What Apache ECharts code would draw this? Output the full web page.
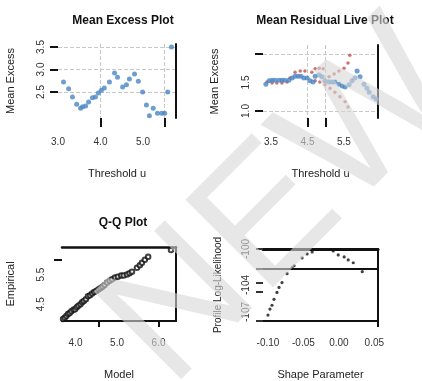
<!DOCTYPE html>
<html>
<head>
<meta charset="utf-8">
<script src="https://cdn.jsdelivr.net/npm/echarts@6/dist/echarts.min.js"></script>
<style>html,body{margin:0;padding:0;background:#fff}#c{width:422px;height:381px}</style>
</head>
<body>
<div id="c"></div>
<script>
// ---- Mean Excess Plot ----
const meThreshold = [3.13,3.25,3.34,3.44,3.53,3.58,3.65,3.72,3.81,3.88,3.95,4.02,4.09,4.21,4.33,4.40,4.52,4.61,4.68,4.80,4.89,4.99,5.08,5.15,5.24,5.34,5.44,5.51,5.58,5.67];
const meExcess    = [2.72,2.57,2.39,2.23,2.14,2.17,2.19,2.28,2.37,2.39,2.48,2.54,2.59,2.72,2.92,2.83,2.61,2.66,2.79,2.90,2.74,2.50,2.21,1.97,2.14,2.03,2.03,2.03,2.50,3.50];
const meXLabels = [3.0, 4.0, 5.0];
const meXTicks  = [4.0, 5.5];
const meYTicks  = [2.5, 3.0, 3.5];

// ---- Mean Residual Life Plot ----
const mrlThreshold = [3.36,3.45,3.53,3.61,3.72,3.80,3.88,3.99,4.08,4.16,4.24,4.32,4.40,4.49,4.57,4.65,4.71,4.82,4.90,4.98,5.09,5.17,5.25,5.36,5.45,5.53,5.64,5.72,5.80,5.86,5.94,6.05,6.13,6.19,6.30,6.38];
const mrlMean      = [1.47,1.53,1.54,1.54,1.54,1.54,1.54,1.54,1.58,1.61,1.61,1.61,1.58,1.58,1.53,1.51,1.61,1.63,1.60,1.53,1.51,1.51,1.51,1.47,1.44,1.42,1.46,1.53,1.58,1.70,1.60,1.47,1.40,1.33,1.25,1.21];
const mrlUpperX = [3.39,3.53,3.66,3.80,3.94,4.02,4.16,4.30,4.43,4.62,4.71,4.82,4.93,5.09,5.23,5.36,5.50,5.61,5.66];
const mrlUpper  = [1.51,1.49,1.49,1.49,1.51,1.58,1.68,1.70,1.70,1.68,1.74,1.75,1.74,1.60,1.65,1.70,1.75,1.84,1.98];
const mrlLowerX = [4.71,4.84,4.98,5.12,5.25,5.39,5.53,5.61];
const mrlLower  = [1.53,1.51,1.46,1.40,1.33,1.25,1.16,1.07];
const mrlXLabels = [3.5, 4.5, 5.5];
const mrlXTicks  = [4.5, 5.0];
const mrlYTicks  = [1.0, 2.0];
const mrlYLabels = [1.0, 1.5];

// ---- Q-Q Plot ----
const qqModel     = [3.70,3.74,3.78,3.82,3.86,3.90,3.95,3.99,4.03,4.07,4.12,4.16,4.20,4.25,4.30,4.35,4.40,4.45,4.50,4.55,4.60,4.65,4.70,4.76,4.82,4.88,4.95,5.02,5.10,5.16,5.24,5.30,5.36,5.48,5.55,5.60,5.67,5.75,6.30];
const qqEmpirical = [4.00,4.04,4.10,4.17,4.20,4.26,4.31,4.33,4.40,4.45,4.50,4.57,4.61,4.67,4.77,4.80,4.86,4.91,4.95,5.00,5.04,5.09,5.15,5.23,5.29,5.34,5.40,5.43,5.47,5.47,5.50,5.55,5.60,5.73,5.82,5.90,6.00,6.10,6.33];
const qqXLabels = [4.0, 5.0, 6.0];
const qqXTicks  = [4.55, 6.0];
const qqYTicks  = [6.0];
const qqYLabels = [4.5, 5.5];

// ---- Profile likelihood ----
const profShape = [-0.100,-0.0972,-0.0943,-0.0915,-0.0873,-0.0844,-0.0802,-0.0731,-0.0660,-0.0632,-0.0519,-0.0448,-0.0377,-0.0080,-0.0009,0.0075,0.0132,0.0203,0.0330];
const profLik   = [-107.34,-106.68,-106.25,-105.59,-104.82,-104.27,-103.73,-102.74,-102.08,-101.86,-100.99,-100.55,-100.33,-100.22,-100.66,-100.88,-101.21,-101.53,-102.52];
const profCut = -102.2;
const profXLabels = [-0.10, -0.05, 0.00, 0.05];
const profXTicks  = [0.055];
const profYTicks  = [-100, -102.2, -103.7, -104.8, -108];
const profYLabels = [-100, -104, -107];

const titles = ['Mean Excess Plot', 'Mean Residual Live Plot', 'Q-Q Plot'];

const FONT = 'Liberation Sans';
const BLUE = '#4a86c4', RED = '#c0504d';
const zip = (a, b) => a.map((v, i) => [v, b[i]]);
const lbl = (vals, fmt, extra) => Object.assign({customValues: vals, formatter: fmt, fontSize: 10, color: '#333', fontFamily: FONT}, extra || {});
const blackTick = (vals, len) => ({show: true, customValues: vals, length: len, lineStyle: {color: '#111', width: 2}});
const grid = {type: 'dashed', color: '#c8c8c8', width: 1};
const nameStyle = {fontSize: 11, color: '#222', fontFamily: FONT};
const f1 = v => v.toFixed(1), f2 = v => v.toFixed(2), f0 = v => v.toFixed(0);
const noLine = {show: false, onZero: false};
const border = w => ({show: true, onZero: false, lineStyle: {color: '#111', width: w}});
const hide = {axisTick: {show: false}, axisLabel: {show: false}, splitLine: {show: false}};

const option = {
  animation: false,
  backgroundColor: '#fff',
  title: [
    {text: titles[0], left: 118, top: 10, textAlign: 'center', textStyle: {fontSize: 12, fontWeight: 'bold', fontFamily: FONT, color: '#111'}},
    {text: titles[1], left: 320, top: 10, textAlign: 'center', textStyle: {fontSize: 12, fontWeight: 'bold', fontFamily: FONT, color: '#111'}},
    {text: titles[2], left: 118, top: 212, textAlign: 'center', textStyle: {fontSize: 12, fontWeight: 'bold', fontFamily: FONT, color: '#111'}}
  ],
  grid: [
    {left: 58, right: 246, top: 44, bottom: 263},
    {left: 263, right: 44, top: 45, bottom: 263},
    {left: 62, right: 246, top: 247, bottom: 59},
    {left: 263, right: 44, top: 249, bottom: 59}
  ],
  xAxis: [
    {gridIndex: 0, type: 'value', min: 3.0, max: 5.776, axisLine: noLine,
     axisTick: blackTick(meXTicks, 9), axisLabel: lbl(meXLabels, f1, {margin: 19}),
     splitLine: {show: true, lineStyle: grid},
     name: 'Threshold u', nameLocation: 'middle', nameGap: 50, nameTextStyle: nameStyle},
    {gridIndex: 1, type: 'value', min: 3.281, max: 6.432, axisLine: noLine,
     axisTick: blackTick(mrlXTicks, 9), axisLabel: lbl(mrlXLabels, f1, {margin: 19}),
     splitLine: {show: true, lineStyle: grid},
     name: 'Threshold u', nameLocation: 'middle', nameGap: 50, nameTextStyle: nameStyle},
    {gridIndex: 2, type: 'value', min: 3.675, max: 6.42, axisLine: border(2),
     axisTick: blackTick(qqXTicks, 6), axisLabel: lbl(qqXLabels, f1, {margin: 17}),
     splitLine: {show: false},
     name: 'Model', nameLocation: 'middle', nameGap: 48, nameTextStyle: nameStyle},
    Object.assign({gridIndex: 2, type: 'value', position: 'top', min: 3.675, max: 6.42, axisLine: border(2.5)}, hide),
    {gridIndex: 3, type: 'value', min: -0.107, max: 0.0552, axisLine: border(2),
     axisTick: blackTick(profXTicks, 6), axisLabel: lbl(profXLabels, f2, {margin: 17}),
     splitLine: {show: false},
     name: 'Shape Parameter', nameLocation: 'middle', nameGap: 48, nameTextStyle: nameStyle},
    Object.assign({gridIndex: 3, type: 'value', position: 'top', min: -0.107, max: 0.0552, axisLine: border(3)}, hide)
  ],
  yAxis: [
    {gridIndex: 0, type: 'value', min: 1.922, max: 3.567, axisLine: noLine,
     axisTick: blackTick(meYTicks, 8), axisLabel: lbl(meYTicks, f1, {rotate: 90, margin: 12}),
     splitLine: {show: true, lineStyle: grid},
     name: 'Mean Excess', nameLocation: 'middle', nameGap: 42, nameRotate: 90, nameTextStyle: nameStyle},
    Object.assign({gridIndex: 0, type: 'value', position: 'right', min: 1.922, max: 3.567, axisLine: border(2)}, hide),
    {gridIndex: 1, type: 'value', min: 0.877, max: 2.158, axisLine: noLine,
     axisTick: blackTick(mrlYTicks, 8), axisLabel: lbl(mrlYLabels, f1, {rotate: 90, margin: 12}),
     splitLine: {show: true, lineStyle: grid},
     name: 'Mean Excess', nameLocation: 'middle', nameGap: 43, nameRotate: 90, nameTextStyle: nameStyle},
    Object.assign({gridIndex: 1, type: 'value', position: 'right', min: 0.877, max: 2.158, axisLine: border(2)}, hide),
    {gridIndex: 2, type: 'value', min: 3.933, max: 6.433, axisLine: noLine,
     axisTick: blackTick(qqYTicks, 8), axisLabel: lbl(qqYLabels, f1, {rotate: 90, margin: 16}),
     splitLine: {show: false},
     name: 'Empirical', nameLocation: 'middle', nameGap: 46, nameRotate: 90, nameTextStyle: nameStyle},
    Object.assign({gridIndex: 2, type: 'value', position: 'right', min: 3.933, max: 6.433, axisLine: border(2)}, hide),
    {gridIndex: 3, type: 'value', min: -108, max: -100, axisLine: noLine,
     axisTick: {show: true, customValues: profYTicks, length: 7, lineStyle: {color: '#333', width: 2}},
     axisLabel: lbl(profYLabels, f0, {rotate: 90, margin: 12}),
     splitLine: {show: false},
     name: 'Profile Log-Likelihood', nameLocation: 'middle', nameGap: 40, nameRotate: 90, nameTextStyle: {fontSize: 10, color: '#222', fontFamily: FONT}},
    Object.assign({gridIndex: 3, type: 'value', position: 'right', min: -108, max: -100, axisLine: border(2)}, hide)
  ],
  series: [
    {type: 'scatter', xAxisIndex: 0, yAxisIndex: 0, data: zip(meThreshold, meExcess), symbolSize: 5, itemStyle: {color: BLUE}},
    {type: 'scatter', xAxisIndex: 1, yAxisIndex: 2, data: zip(mrlUpperX, mrlUpper), symbolSize: 3.5, itemStyle: {color: RED}},
    {type: 'scatter', xAxisIndex: 1, yAxisIndex: 2, data: zip(mrlLowerX, mrlLower), symbolSize: 3.5, itemStyle: {color: RED}},
    {type: 'scatter', xAxisIndex: 1, yAxisIndex: 2, data: zip(mrlThreshold, mrlMean), symbolSize: 5, itemStyle: {color: BLUE}},
    {type: 'scatter', xAxisIndex: 2, yAxisIndex: 4, data: zip(qqModel, qqEmpirical), symbol: 'emptyCircle', symbolSize: 4.5, itemStyle: {color: '#111', borderColor: '#111', borderWidth: 1.2}},
    {type: 'scatter', xAxisIndex: 4, yAxisIndex: 6, data: zip(profShape, profLik), symbolSize: 3.2, itemStyle: {color: '#111'},
     markLine: {silent: true, symbol: 'none', label: {show: false}, lineStyle: {color: '#111', width: 2, type: 'solid'}, data: [{yAxis: profCut}]}}
  ],
  graphic: [
    {type: 'text', x: 284, y: 206, rotation: Math.PI / 4, z: 100, silent: true,
     style: {text: 'NEW', fontSize: 180, fontWeight: 'normal', fontFamily: FONT, fill: 'rgba(215,215,215,0.6)', textAlign: 'center', textVerticalAlign: 'middle'}}
  ]
};
echarts.init(document.getElementById('c'), null, {renderer: 'canvas'}).setOption(option);
</script>
</body>
</html>
